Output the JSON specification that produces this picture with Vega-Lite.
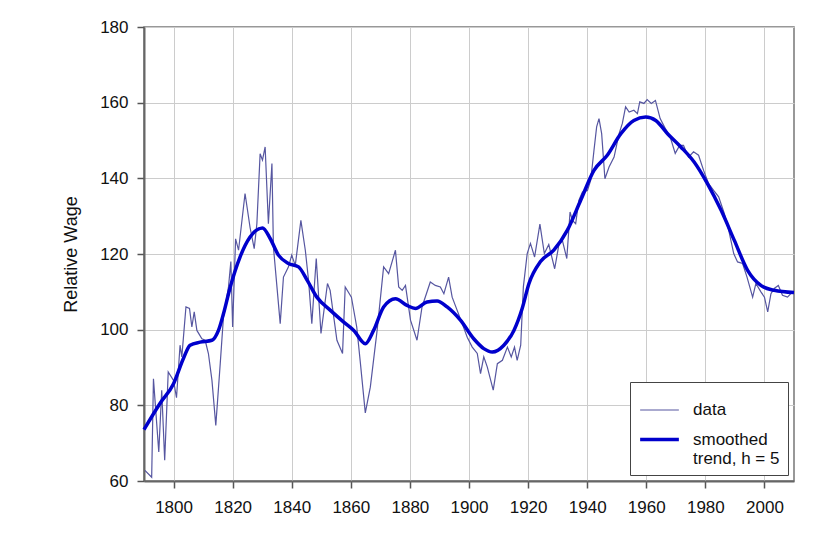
{
  "$schema": "https://vega.github.io/schema/vega-lite/v6.json",
  "width": 650,
  "height": 454,
  "autosize": {"type": "none"},
  "padding": {"left": 144, "top": 27, "right": 34, "bottom": 65},
  "background": "white",
  "config": {
    "font": "Liberation Sans",
    "view": {"stroke": "#777777", "strokeWidth": 1.5},
    "axis": {
      "grid": true,
      "gridColor": "#cccccc",
      "gridWidth": 1,
      "domainColor": "#666666",
      "domainWidth": 2,
      "tickColor": "#555555",
      "tickWidth": 1.5,
      "tickSize": 7,
      "labelFont": "Liberation Sans",
      "labelFontSize": 17,
      "labelColor": "#111111",
      "titleFont": "Liberation Sans",
      "titleFontSize": 18,
      "titleFontWeight": "normal",
      "titleColor": "#111111"
    }
  },
  "data": {
    "values": [
      {"series": "data", "year": 1790.3, "value": 62.8},
      {"series": "data", "year": 1792.6, "value": 61},
      {"series": "data", "year": 1793.2, "value": 87},
      {"series": "data", "year": 1795, "value": 67.7},
      {"series": "data", "year": 1796, "value": 84},
      {"series": "data", "year": 1797, "value": 65.5},
      {"series": "data", "year": 1798.2, "value": 88.8},
      {"series": "data", "year": 1800, "value": 86.6},
      {"series": "data", "year": 1801, "value": 82},
      {"series": "data", "year": 1802.2, "value": 95.9},
      {"series": "data", "year": 1802.8, "value": 92.8},
      {"series": "data", "year": 1804.2, "value": 106},
      {"series": "data", "year": 1805.4, "value": 105.6},
      {"series": "data", "year": 1806.2, "value": 100.7},
      {"series": "data", "year": 1807, "value": 104.7},
      {"series": "data", "year": 1807.9, "value": 99.8},
      {"series": "data", "year": 1809.6, "value": 97.6},
      {"series": "data", "year": 1810.7, "value": 97.2},
      {"series": "data", "year": 1811.8, "value": 93.7},
      {"series": "data", "year": 1813, "value": 86.6},
      {"series": "data", "year": 1814.3, "value": 74.7},
      {"series": "data", "year": 1815.8, "value": 91},
      {"series": "data", "year": 1816.9, "value": 103.4},
      {"series": "data", "year": 1818.6, "value": 111.3},
      {"series": "data", "year": 1819.4, "value": 118},
      {"series": "data", "year": 1820, "value": 100.7},
      {"series": "data", "year": 1821, "value": 124},
      {"series": "data", "year": 1822, "value": 121},
      {"series": "data", "year": 1824.2, "value": 136},
      {"series": "data", "year": 1825.9, "value": 127},
      {"series": "data", "year": 1827.3, "value": 121.4},
      {"series": "data", "year": 1828.2, "value": 128},
      {"series": "data", "year": 1829.3, "value": 146.5},
      {"series": "data", "year": 1830.1, "value": 144.8},
      {"series": "data", "year": 1831, "value": 148.3},
      {"series": "data", "year": 1832.1, "value": 128},
      {"series": "data", "year": 1833.3, "value": 143.9},
      {"series": "data", "year": 1833.8, "value": 121.9},
      {"series": "data", "year": 1836.1, "value": 101.6},
      {"series": "data", "year": 1837.2, "value": 113.9},
      {"series": "data", "year": 1838.9, "value": 116.6},
      {"series": "data", "year": 1840, "value": 119.7},
      {"series": "data", "year": 1841.2, "value": 117},
      {"series": "data", "year": 1843.1, "value": 128.9},
      {"series": "data", "year": 1844.6, "value": 121},
      {"series": "data", "year": 1845.7, "value": 113},
      {"series": "data", "year": 1846.8, "value": 101.6},
      {"series": "data", "year": 1848.3, "value": 118.8},
      {"series": "data", "year": 1849.9, "value": 99},
      {"series": "data", "year": 1852.1, "value": 112.2},
      {"series": "data", "year": 1853, "value": 110.4},
      {"series": "data", "year": 1855.3, "value": 97.2},
      {"series": "data", "year": 1857.2, "value": 93.7},
      {"series": "data", "year": 1858.1, "value": 111.3},
      {"series": "data", "year": 1860.2, "value": 108.6},
      {"series": "data", "year": 1862, "value": 100.7},
      {"series": "data", "year": 1863.2, "value": 91.5},
      {"series": "data", "year": 1864.9, "value": 78},
      {"series": "data", "year": 1866.6, "value": 84.8},
      {"series": "data", "year": 1868.9, "value": 99.8},
      {"series": "data", "year": 1871.1, "value": 116.6},
      {"series": "data", "year": 1872.8, "value": 114.8},
      {"series": "data", "year": 1875.1, "value": 121},
      {"series": "data", "year": 1876.2, "value": 111.3},
      {"series": "data", "year": 1877.4, "value": 110.4},
      {"series": "data", "year": 1878.5, "value": 111.7},
      {"series": "data", "year": 1880.2, "value": 102.5},
      {"series": "data", "year": 1882.4, "value": 97.2},
      {"series": "data", "year": 1884.1, "value": 106},
      {"series": "data", "year": 1886.9, "value": 112.6},
      {"series": "data", "year": 1888.6, "value": 111.7},
      {"series": "data", "year": 1890.3, "value": 111.3},
      {"series": "data", "year": 1891.5, "value": 109.5},
      {"series": "data", "year": 1893.1, "value": 113.9},
      {"series": "data", "year": 1894.3, "value": 108.6},
      {"series": "data", "year": 1896, "value": 105.1},
      {"series": "data", "year": 1897.7, "value": 101.6},
      {"series": "data", "year": 1899.4, "value": 98},
      {"series": "data", "year": 1901.1, "value": 95.4},
      {"series": "data", "year": 1902.8, "value": 93.7},
      {"series": "data", "year": 1903.9, "value": 88.4},
      {"series": "data", "year": 1905, "value": 92.8},
      {"series": "data", "year": 1906.2, "value": 90.1},
      {"series": "data", "year": 1908.2, "value": 84},
      {"series": "data", "year": 1909.6, "value": 91},
      {"series": "data", "year": 1911.3, "value": 91.9},
      {"series": "data", "year": 1913, "value": 95.4},
      {"series": "data", "year": 1914.3, "value": 92.8},
      {"series": "data", "year": 1915.4, "value": 95.4},
      {"series": "data", "year": 1916.3, "value": 91.9},
      {"series": "data", "year": 1917.5, "value": 95.9},
      {"series": "data", "year": 1918.4, "value": 111.3},
      {"series": "data", "year": 1919.7, "value": 120.1},
      {"series": "data", "year": 1920.8, "value": 122.8},
      {"series": "data", "year": 1922.2, "value": 119.2},
      {"series": "data", "year": 1924, "value": 127.9},
      {"series": "data", "year": 1925.5, "value": 120.1},
      {"series": "data", "year": 1927, "value": 122.5},
      {"series": "data", "year": 1929, "value": 116.1},
      {"series": "data", "year": 1930.5, "value": 122.8},
      {"series": "data", "year": 1931.6, "value": 123.6},
      {"series": "data", "year": 1933.1, "value": 118.8},
      {"series": "data", "year": 1934.2, "value": 131.1},
      {"series": "data", "year": 1935, "value": 128.9},
      {"series": "data", "year": 1936.1, "value": 128},
      {"series": "data", "year": 1937.2, "value": 134.2},
      {"series": "data", "year": 1938.4, "value": 136.4},
      {"series": "data", "year": 1940.1, "value": 136.8},
      {"series": "data", "year": 1941.2, "value": 139.5},
      {"series": "data", "year": 1942.3, "value": 147.4},
      {"series": "data", "year": 1943.2, "value": 153.6},
      {"series": "data", "year": 1944, "value": 155.8},
      {"series": "data", "year": 1944.9, "value": 151.8},
      {"series": "data", "year": 1946, "value": 139.9},
      {"series": "data", "year": 1947.4, "value": 143},
      {"series": "data", "year": 1949.1, "value": 145.6},
      {"series": "data", "year": 1950.8, "value": 151.8},
      {"series": "data", "year": 1951.9, "value": 154.5},
      {"series": "data", "year": 1953, "value": 158.9},
      {"series": "data", "year": 1954.2, "value": 157.5},
      {"series": "data", "year": 1955.8, "value": 158},
      {"series": "data", "year": 1957, "value": 157.1},
      {"series": "data", "year": 1957.8, "value": 160.2},
      {"series": "data", "year": 1959.2, "value": 159.8},
      {"series": "data", "year": 1960.3, "value": 160.8},
      {"series": "data", "year": 1961.7, "value": 159.8},
      {"series": "data", "year": 1963.1, "value": 160.6},
      {"series": "data", "year": 1964.7, "value": 155.8},
      {"series": "data", "year": 1966.4, "value": 153.2},
      {"series": "data", "year": 1968.1, "value": 150.9},
      {"series": "data", "year": 1969.8, "value": 146.6},
      {"series": "data", "year": 1971.3, "value": 148.7},
      {"series": "data", "year": 1972.6, "value": 148.7},
      {"series": "data", "year": 1974.3, "value": 145.6},
      {"series": "data", "year": 1976, "value": 147},
      {"series": "data", "year": 1977.7, "value": 146.1},
      {"series": "data", "year": 1979.4, "value": 142.1},
      {"series": "data", "year": 1981.1, "value": 138.6},
      {"series": "data", "year": 1982.8, "value": 136.8},
      {"series": "data", "year": 1984.5, "value": 135.1},
      {"series": "data", "year": 1986.4, "value": 130.7},
      {"series": "data", "year": 1987.9, "value": 126.3},
      {"series": "data", "year": 1989.6, "value": 120.1},
      {"series": "data", "year": 1990.9, "value": 117.9},
      {"series": "data", "year": 1992.6, "value": 117.5},
      {"series": "data", "year": 1994.1, "value": 113.9},
      {"series": "data", "year": 1996, "value": 108.6},
      {"series": "data", "year": 1997.1, "value": 112.2},
      {"series": "data", "year": 1998.8, "value": 110},
      {"series": "data", "year": 2000, "value": 108.6},
      {"series": "data", "year": 2001.1, "value": 104.7},
      {"series": "data", "year": 2002.2, "value": 109.5},
      {"series": "data", "year": 2003.3, "value": 110.9},
      {"series": "data", "year": 2004.7, "value": 111.7},
      {"series": "data", "year": 2006.1, "value": 109.1},
      {"series": "data", "year": 2007.8, "value": 108.6},
      {"series": "data", "year": 2009.5, "value": 110},
      {"series": "smoothed", "year": 1790, "value": 73.6},
      {"series": "smoothed", "year": 1795.4, "value": 80.5},
      {"series": "smoothed", "year": 1800, "value": 85.7},
      {"series": "smoothed", "year": 1803.3, "value": 92.3},
      {"series": "smoothed", "year": 1805.6, "value": 95.9},
      {"series": "smoothed", "year": 1809, "value": 96.7},
      {"series": "smoothed", "year": 1813, "value": 97.2},
      {"series": "smoothed", "year": 1815.2, "value": 99.8},
      {"series": "smoothed", "year": 1816.9, "value": 104.2},
      {"series": "smoothed", "year": 1819.2, "value": 111.3},
      {"series": "smoothed", "year": 1822.5, "value": 119.2},
      {"series": "smoothed", "year": 1825.9, "value": 124.5},
      {"series": "smoothed", "year": 1830.1, "value": 126.9},
      {"series": "smoothed", "year": 1832.7, "value": 124.1},
      {"series": "smoothed", "year": 1835.5, "value": 119.7},
      {"series": "smoothed", "year": 1838.9, "value": 117.5},
      {"series": "smoothed", "year": 1842.3, "value": 116.6},
      {"series": "smoothed", "year": 1845.2, "value": 113.1},
      {"series": "smoothed", "year": 1848.5, "value": 108.6},
      {"series": "smoothed", "year": 1853.1, "value": 105.1},
      {"series": "smoothed", "year": 1857.6, "value": 102},
      {"series": "smoothed", "year": 1861, "value": 99.8},
      {"series": "smoothed", "year": 1864.9, "value": 96.3},
      {"series": "smoothed", "year": 1867.7, "value": 99.8},
      {"series": "smoothed", "year": 1871.1, "value": 106},
      {"series": "smoothed", "year": 1875.1, "value": 108.2},
      {"series": "smoothed", "year": 1879, "value": 106.4},
      {"series": "smoothed", "year": 1881.9, "value": 105.6},
      {"series": "smoothed", "year": 1885.8, "value": 107.3},
      {"series": "smoothed", "year": 1889.2, "value": 107.6},
      {"series": "smoothed", "year": 1892.6, "value": 106},
      {"series": "smoothed", "year": 1897.1, "value": 102.5},
      {"series": "smoothed", "year": 1901.6, "value": 97.6},
      {"series": "smoothed", "year": 1905, "value": 95},
      {"series": "smoothed", "year": 1907.9, "value": 94.1},
      {"series": "smoothed", "year": 1911.8, "value": 95.9},
      {"series": "smoothed", "year": 1915.2, "value": 99.8},
      {"series": "smoothed", "year": 1918, "value": 105.6},
      {"series": "smoothed", "year": 1920.3, "value": 112.2},
      {"series": "smoothed", "year": 1924.2, "value": 118},
      {"series": "smoothed", "year": 1928.7, "value": 121},
      {"series": "smoothed", "year": 1933.3, "value": 126.3},
      {"series": "smoothed", "year": 1937.8, "value": 134.2},
      {"series": "smoothed", "year": 1942.3, "value": 142.1},
      {"series": "smoothed", "year": 1946.8, "value": 146.1},
      {"series": "smoothed", "year": 1951.4, "value": 151.8},
      {"series": "smoothed", "year": 1955.8, "value": 155.3},
      {"series": "smoothed", "year": 1959.8, "value": 156.2},
      {"series": "smoothed", "year": 1963.2, "value": 155.3},
      {"series": "smoothed", "year": 1967.2, "value": 151.8},
      {"series": "smoothed", "year": 1971.7, "value": 148.3},
      {"series": "smoothed", "year": 1976.2, "value": 144.3},
      {"series": "smoothed", "year": 1980.7, "value": 138.6},
      {"series": "smoothed", "year": 1985.3, "value": 131.6},
      {"series": "smoothed", "year": 1989.8, "value": 123.6},
      {"series": "smoothed", "year": 1994.3, "value": 115.7},
      {"series": "smoothed", "year": 1998.8, "value": 111.7},
      {"series": "smoothed", "year": 2003.3, "value": 110.4},
      {"series": "smoothed", "year": 2010, "value": 109.8}
    ]
  },
  "encoding": {
    "x": {
      "field": "year",
      "type": "quantitative",
      "scale": {"domain": [1790, 2010], "nice": false, "zero": false},
      "axis": {
        "title": null,
        "values": [1800, 1820, 1840, 1860, 1880, 1900, 1920, 1940, 1960, 1980, 2000],
        "format": "d",
        "labelPadding": 11
      }
    },
    "y": {
      "field": "value",
      "type": "quantitative",
      "scale": {"domain": [60, 180], "nice": false, "zero": false},
      "axis": {
        "title": "Relative Wage",
        "values": [60, 80, 100, 120, 140, 160, 180],
        "labelPadding": 9,
        "titlePadding": 19
      }
    },
    "color": {
      "field": "series",
      "type": "nominal",
      "scale": {"domain": ["data", "smoothed"], "range": ["#5656a0", "#0000cc"]},
      "legend": {
        "title": null,
        "orient": "bottom-right",
        "offset": 6,
        "symbolType": "stroke",
        "symbolSize": 1500,
        "labelFont": "Liberation Sans",
        "labelFontSize": 17,
        "labelColor": "#111111",
        "labelExpr": "datum.label == 'smoothed' ? ['smoothed', 'trend, h = 5'] : datum.label",
        "fillColor": "white",
        "strokeColor": "#444444",
        "padding": 8,
        "rowPadding": 0,
        "labelOffset": 12
      }
    },
    "strokeWidth": {
      "field": "series",
      "type": "nominal",
      "scale": {"domain": ["data", "smoothed"], "range": [1.2, 3.5]},
      "legend": {
        "title": null,
        "orient": "bottom-right",
        "offset": 6,
        "symbolType": "stroke",
        "symbolSize": 1500,
        "labelFont": "Liberation Sans",
        "labelFontSize": 17,
        "labelColor": "#111111",
        "labelExpr": "datum.label == 'smoothed' ? ['smoothed', 'trend, h = 5'] : datum.label",
        "fillColor": "white",
        "strokeColor": "#444444",
        "padding": 8,
        "rowPadding": 0,
        "labelOffset": 12
      }
    }
  },
  "layer": [
    {
      "transform": [{"filter": "datum.series == 'data'"}],
      "mark": {"type": "line", "interpolate": "linear"}
    },
    {
      "transform": [{"filter": "datum.series == 'smoothed'"}],
      "mark": {"type": "line", "interpolate": "monotone"}
    }
  ]
}
